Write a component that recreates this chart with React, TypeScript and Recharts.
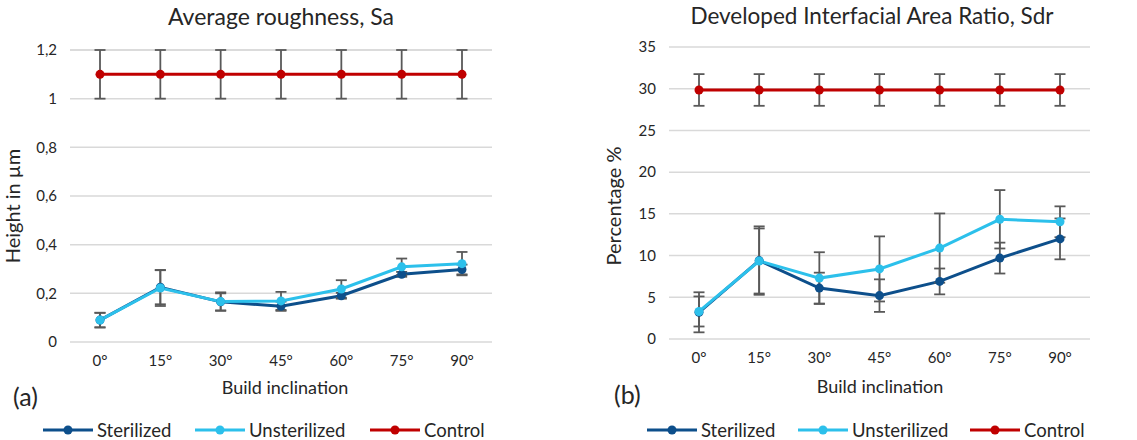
import { LineChart, Line, XAxis, YAxis, CartesianGrid, ErrorBar } from 'recharts'

const categories = ['0°', '15°', '30°', '45°', '60°', '75°', '90°']

// (a) Average roughness, Sa (µm)
const saSterilized = [0.09, 0.225, 0.165, 0.147, 0.19, 0.278, 0.298]
const saSterilizedErr = [0.03, 0.07, 0.035, 0.019, 0.012, 0.01, 0.02]
const saUnsterilized = [0.09, 0.222, 0.166, 0.169, 0.218, 0.309, 0.322]
const saUnsterilizedErr = [0.03, 0.074, 0.038, 0.037, 0.036, 0.034, 0.048]
const saControl = [1.1, 1.1, 1.1, 1.1, 1.1, 1.1, 1.1]
const saControlErr = [0.1, 0.1, 0.1, 0.1, 0.1, 0.1, 0.1]
const saTicks = [0, 0.2, 0.4, 0.6, 0.8, 1, 1.2]

// (b) Developed interfacial area ratio, Sdr (%)
const sdrSterilized = [3.2, 9.4, 6.1, 5.2, 6.9, 9.7, 12.0]
const sdrSterilizedErr = [2.4, 4.1, 1.85, 1.95, 1.55, 1.85, 2.45]
const sdrUnsterilized = [3.3, 9.35, 7.3, 8.4, 10.9, 14.35, 14.05]
const sdrUnsterilizedErr = [1.8, 3.9, 3.1, 3.9, 4.15, 3.5, 1.85]
const sdrControl = [29.85, 29.85, 29.85, 29.85, 29.85, 29.85, 29.85]
const sdrControlErr = [1.9, 1.9, 1.9, 1.9, 1.9, 1.9, 1.9]
const sdrTicks = [0, 5, 10, 15, 20, 25, 30, 35]

const STER = '#0d4f8b'
const UNSTER = '#2cc0eb'
const CTRL = '#c00000'
const ERR = '#595959'
const TEXT = '#262626'
const FONT = 'Lato, "Open Sans", sans-serif'

const saData = categories.map((c, i) => ({
  cat: c,
  ster: saSterilized[i],
  sterErr: saSterilizedErr[i],
  unster: saUnsterilized[i],
  unsterErr: saUnsterilizedErr[i],
  ctrl: saControl[i],
  ctrlErr: saControlErr[i],
}))

const sdrData = categories.map((c, i) => ({
  cat: c,
  ster: sdrSterilized[i],
  sterErr: sdrSterilizedErr[i],
  unster: sdrUnsterilized[i],
  unsterErr: sdrUnsterilizedErr[i],
  ctrl: sdrControl[i],
  ctrlErr: sdrControlErr[i],
}))

interface PanelProps {
  data: typeof saData
  left: number
  width: number
  margin: { top: number; right: number; left: number; bottom: number }
  yWidth: number
  ticks: number[]
  domain: [number, number]
  fmt: (v: number) => string
}

function Panel({ data, left, width, margin, yWidth, ticks, domain, fmt }: PanelProps) {
  const series = [
    { key: 'ster', color: STER },
    { key: 'unster', color: UNSTER },
    { key: 'ctrl', color: CTRL },
  ]
  return (
    <div style={{ position: 'absolute', left, top: 0 }}>
      <LineChart width={width} height={440} data={data} margin={margin}>
        <CartesianGrid vertical={false} stroke="#d9d9d9" strokeWidth={1.5} />
        <XAxis
          dataKey="cat"
          axisLine={false}
          tickLine={false}
          height={30}
          padding={{ left: 30, right: 30 }}
          tickMargin={7}
          tick={{ fill: TEXT, fontSize: 15, fontFamily: FONT }}
        />
        <YAxis
          width={yWidth}
          domain={domain}
          ticks={ticks}
          axisLine={false}
          tickLine={false}
          tickMargin={7}
          tickFormatter={fmt}
          tick={{ fill: TEXT, fontSize: 15, fontFamily: FONT }}
        />
        {series.map(s => (
          <Line
            key={s.key}
            type="linear"
            dataKey={s.key}
            stroke={s.color}
            strokeWidth={3}
            dot={{ r: 4.5, fill: s.color, stroke: s.color, strokeWidth: 0 }}
            activeDot={false}
            isAnimationActive={false}
          >
            <ErrorBar dataKey={s.key + 'Err'} width={5.5} stroke={ERR} strokeWidth={1.8} />
          </Line>
        ))}
      </LineChart>
    </div>
  )
}

function LegendRow({ x, gaps }: { x: number; gaps: number[] }) {
  const items = [
    { name: 'Sterilized', color: STER },
    { name: 'Unsterilized', color: UNSTER },
    { name: 'Control', color: CTRL },
  ]
  return (
    <>
      {items.map((it, i) => (
        <div
          key={it.name}
          style={{ position: 'absolute', left: x + gaps[i], top: 418, height: 24, display: 'flex', alignItems: 'center' }}
        >
          <svg width={52} height={12}>
            <line x1={1} y1={6} x2={51} y2={6} stroke={it.color} strokeWidth={3} />
            <circle cx={26} cy={6} r={4.5} fill={it.color} />
          </svg>
          <span style={{ marginLeft: 3, fontSize: 18.5, color: TEXT, fontFamily: FONT, lineHeight: '24px' }}>{it.name}</span>
        </div>
      ))}
    </>
  )
}

const txt = (extra: React.CSSProperties): React.CSSProperties => ({
  position: 'absolute',
  fontFamily: FONT,
  color: TEXT,
  whiteSpace: 'nowrap',
  ...extra,
})

export default function App() {
  const commaFmt = (v: number) => String(v).replace('.', ',')
  return (
    <div style={{ position: 'absolute', left: 0, top: 0, width: 1137, height: 440, background: '#fff', overflow: 'hidden' }}>
      <Panel
        data={saData}
        left={0}
        width={568}
        margin={{ top: 50, right: 76, left: 20, bottom: 68 }}
        yWidth={50}
        ticks={saTicks}
        domain={[0, 1.2]}
        fmt={commaFmt}
      />
      <Panel
        data={sdrData}
        left={568}
        width={569}
        margin={{ top: 47, right: 47, left: 51, bottom: 71 }}
        yWidth={50}
        ticks={sdrTicks}
        domain={[0, 35]}
        fmt={v => String(v)}
      />

      <div style={txt({ left: 281, top: 2, fontSize: 23, transform: 'translateX(-50%)' })}>Average roughness, Sa</div>
      <div style={txt({ left: 872, top: 2, fontSize: 22.5, transform: 'translateX(-50%)' })}>
        Developed Interfacial Area Ratio, Sdr
      </div>

      <div style={txt({ left: 12, top: 206, fontSize: 20, transform: 'translate(-50%, -50%) rotate(-90deg)' })}>Height in µm</div>
      <div style={txt({ left: 613, top: 206, fontSize: 20, transform: 'translate(-50%, -50%) rotate(-90deg)' })}>Percentage %</div>

      <div style={txt({ left: 285, top: 376, fontSize: 18, transform: 'translateX(-50%)' })}>Build inclination</div>
      <div style={txt({ left: 880, top: 375, fontSize: 18, transform: 'translateX(-50%)' })}>Build inclination</div>

      <div style={txt({ left: 13, top: 381, fontSize: 25 })}>(a)</div>
      <div style={txt({ left: 614, top: 379, fontSize: 25 })}>(b)</div>

      <LegendRow x={42} gaps={[0, 152, 327]} />
      <LegendRow x={646} gaps={[0, 151, 323]} />
    </div>
  )
}
